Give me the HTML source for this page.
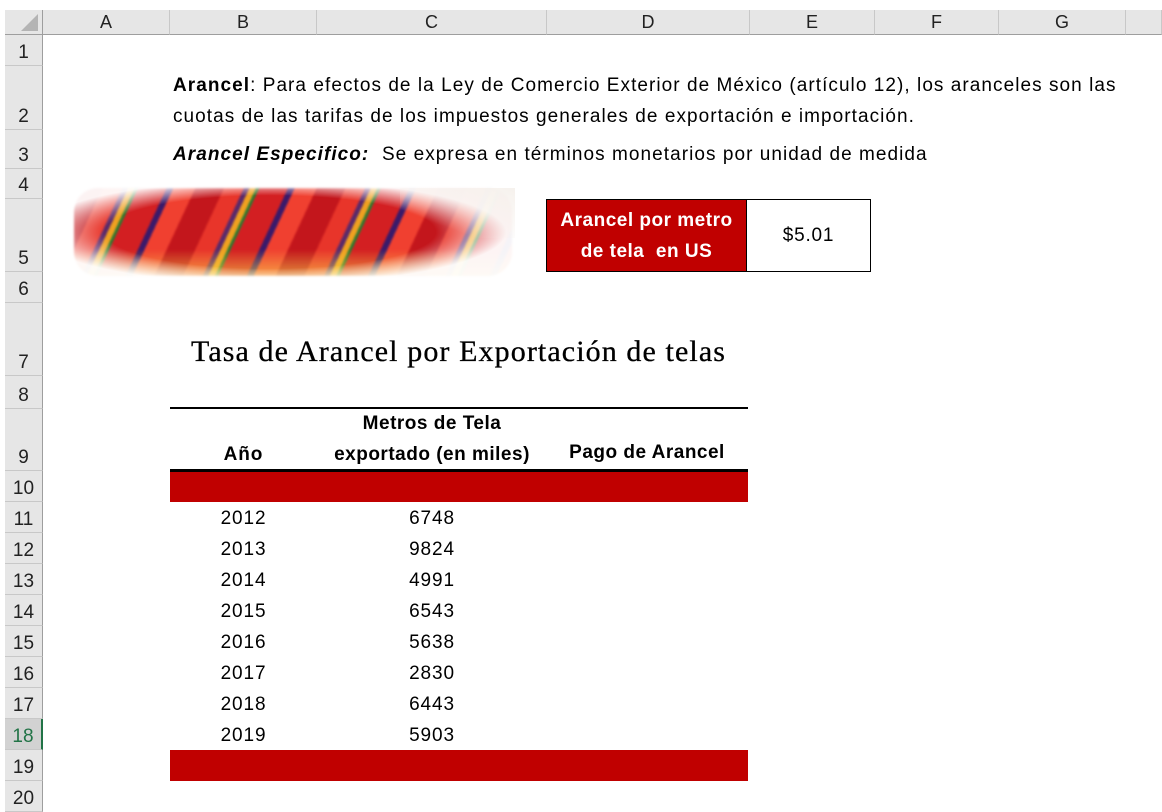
<!DOCTYPE html>
<html><head><meta charset="utf-8">
<style>
body{margin:0;width:1162px;height:808px;background:#fff;position:relative;overflow:hidden;font-family:"Liberation Sans",sans-serif;color:#000}
.abs{position:absolute}
.colh{position:absolute;top:10px;height:25px;background:#e6e6e6;border-right:1px solid #c8c8c8;border-bottom:1px solid #9e9e9e;box-sizing:border-box;text-align:center;line-height:25px;font-size:18px;color:#222}
.rowh{position:absolute;left:5px;width:38px;background:#e6e6e6;border-bottom:1px solid #c8c8c8;border-right:1px solid #9e9e9e;box-sizing:border-box;text-align:center;font-size:19px;color:#222;display:flex;align-items:flex-end;justify-content:center;padding-bottom:1px}
.t{position:absolute;white-space:nowrap;font-size:19px;letter-spacing:1.05px}
.cell{position:absolute;text-align:center;font-size:19px;letter-spacing:0.9px;white-space:nowrap}
</style></head><body>
<div class="abs" style="left:5px;top:10px;width:38px;height:25px;background:#e6e6e6;border-right:1px solid #9e9e9e;border-bottom:1px solid #9e9e9e;box-sizing:border-box">
<svg width="38" height="25" style="position:absolute;left:0;top:0"><polygon points="33,4 33,21 16,21" fill="#b4b4b4"/></svg></div>
<div id="cols"></div><div id="rows"></div>

<div class="t" style="left:173px;top:75px"><b>Arancel</b>: Para efectos de la Ley de Comercio Exterior de México (artículo 12), los aranceles son las</div>
<div class="t" style="left:173px;top:106px">cuotas de las tarifas de los impuestos generales de exportación e importación.</div>
<div class="t" style="left:173px;top:144px"><b><i>Arancel Especifico:</i></b>&nbsp; Se expresa en términos monetarios por unidad de medida</div>

<div class="abs" style="left:74px;top:188px;width:438px;height:88px;overflow:hidden;border-radius:24px;filter:blur(1px);
background:linear-gradient(180deg,rgba(255,255,255,0) 70%,rgba(250,220,80,.6) 100%),repeating-linear-gradient(115deg,#c3161c 0 26px,#e8352a 26px 44px,#5a2a6a 44px 49px,#f0a020 49px 55px,#2c7a30 55px 58px,#d31f22 58px 84px,#3a1a6a 84px 90px,#f04030 90px 110px)"></div>
<div class="abs" style="left:66px;top:180px;width:454px;height:104px;background:radial-gradient(ellipse 52% 50% at 45% 50%,rgba(255,255,255,0) 70%,rgba(255,255,255,.95) 100%)"></div>
<div class="abs" style="left:400px;top:188px;width:115px;height:50px;background:linear-gradient(200deg,rgba(245,240,235,.9),rgba(255,255,255,0) 70%)"></div>

<div class="abs" style="left:546px;top:199px;width:201px;height:73px;background:#c00000;border:1.5px solid #000;box-sizing:border-box;color:#fff;font-weight:bold;font-size:19px;letter-spacing:0.5px;text-align:center;line-height:31px;padding-top:5px;white-space:nowrap">Arancel por metro<br>de tela&nbsp; en US</div>
<div class="abs" style="left:746px;top:199px;width:125px;height:73px;border:1.5px solid #000;box-sizing:border-box;font-size:19px;letter-spacing:0.8px;text-align:center;line-height:72px">$5.01</div>

<div class="abs" style="left:170px;width:577px;top:335px;text-align:center;font-family:'Liberation Serif',serif;font-size:30px;letter-spacing:1.1px;white-space:nowrap;-webkit-text-stroke:0.3px #000">Tasa de Arancel por Exportación de telas</div>

<div class="abs" style="left:170px;top:407px;width:578px;height:2px;background:#000"></div>
<div class="cell" style="left:170px;width:147px;top:444px;font-weight:bold">Año</div>
<div class="cell" style="left:317px;width:230px;top:408px;font-weight:bold;line-height:31px;letter-spacing:0.5px">Metros de Tela<br>exportado (en miles)</div>
<div class="cell" style="left:547px;width:200px;top:442px;font-weight:bold;letter-spacing:0.5px">Pago de Arancel</div>
<div class="abs" style="left:170px;top:469px;width:578px;height:3px;background:#000"></div>
<div class="abs" style="left:170px;top:472px;width:578px;height:30px;background:#c00000"></div>
<div id="body"></div>
<div class="abs" style="left:170px;top:750px;width:578px;height:31px;background:#c00000"></div>

<script>
const colLabels=["A","B","C","D","E","F","G",""];
const colEdges=[43,170,317,547,750,875,999,1126,1162];
const rowLabels=["1","2","3","4","5","6","7","8","9","10","11","12","13","14","15","16","17","18","19","20"];
const rowEdges=[35,66,130,169,199,272,303,376,409,471,502,533,564,595,626,657,688,719,750,781,812];
const years=["2012","2013","2014","2015","2016","2017","2018","2019"];
const meters=[6748,9824,4991,6543,5638,2830,6443,5903];

const cols=document.getElementById('cols');
for(let i=0;i<colLabels.length;i++){
  const d=document.createElement('div');
  d.className='colh';
  d.style.left=colEdges[i]+'px';d.style.width=(colEdges[i+1]-colEdges[i])+'px';
  d.textContent=colLabels[i];
  
  
  cols.appendChild(d);
}
const rows=document.getElementById('rows');
for(let i=0;i<rowLabels.length;i++){
  const d=document.createElement('div');
  d.className='rowh';
  d.style.top=rowEdges[i]+'px';d.style.height=(rowEdges[i+1]-rowEdges[i])+'px';
  d.textContent=rowLabels[i];
  if(rowLabels[i]==='18'){d.style.background='#d2d2d2';d.style.color='#217346';d.style.borderRight='2px solid #217346';}
  
  
  rows.appendChild(d);
}
const body=document.getElementById('body');
for(let i=0;i<years.length;i++){
  const top=rowEdges[10+i];
  const y=document.createElement('div');
  y.className='cell';y.style.left='170px';y.style.width='147px';y.style.top=(top+6)+'px';
  y.textContent=years[i];
  
  
  body.appendChild(y);
  const m=document.createElement('div');
  m.className='cell';m.style.left='317px';m.style.width='230px';m.style.top=(top+6)+'px';
  m.textContent=meters[i];
  
  
  body.appendChild(m);
}
</script>
</body></html>
